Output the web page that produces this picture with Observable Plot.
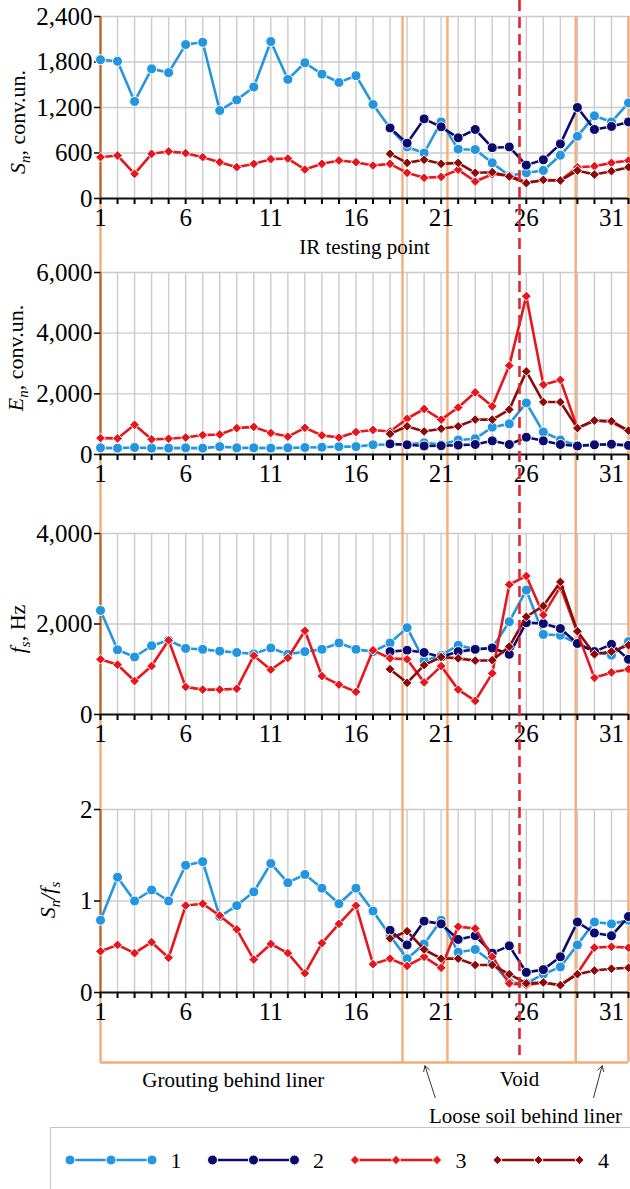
<!DOCTYPE html>
<html>
<head>
<meta charset="utf-8">
<script src="https://cdn.jsdelivr.net/npm/d3@7"></script>
<script src="https://cdn.jsdelivr.net/npm/@observablehq/plot@0.6"></script>
<style>
  body { margin: 0; background: #fff; font-family: "Liberation Serif", serif; }
  #fig { position: relative; width: 630px; height: 1189px; overflow: hidden; background: #fff; }
  #fig svg { overflow: visible; }
  #fig svg g[aria-label$="tick label"] text { font-size: 25px !important; }
  .legend { position: absolute; left: 50px; top: 1127px; width: 582px; height: 90px;
            border: 1.5px solid #c4c4c4; box-sizing: border-box; background: #fff; }
  .legend svg { position: absolute; left: 0; top: 0; }
</style>
</head>
<body>
<div id="fig"></div>
<script>
// IR testing points along the tunnel lining
const pointNo = d3.range(1, 33);        // series 1 and 3: points 1..32
const pointNoLate = d3.range(18, 33);   // series 2 and 4: points 18..32
const seriesNames = ["1", "2", "3", "4"];

// S_n, conv.un.
const sn1 = [1830, 1810, 1280, 1710, 1660, 2030, 2060, 1160, 1300, 1470, 2070, 1570, 1790, 1640, 1530, 1620,
             1240, 930, 680, 600, 1010, 650, 645, 470, 300, 340, 370, 570, 820, 1090, 1010, 1260];
const sn2 = [930, 730, 1050, 945, 800, 910, 670, 680, 440, 510, 720, 1200, 910, 950, 1010];
const sn3 = [545, 567, 325, 589, 620, 598, 545, 479, 413, 457, 519, 527, 382, 457, 501, 479,
             435, 457, 339, 273, 285, 380, 224, 320, 303, 215, 237, 237, 413, 426, 470, 500];
const sn4 = [589, 470, 510, 457, 470, 339, 347, 290, 202, 246, 237, 369, 316, 360, 413];

// E_n, conv.un.
const en1 = [220, 210, 230, 210, 210, 220, 210, 260, 220, 220, 210, 220, 230, 240, 260, 260,
             320, 330, 340, 385, 330, 480, 520, 900, 1010, 1700, 740, 480, 300, 320, 320, 300];
const en2 = [350, 320, 280, 290, 310, 330, 450, 330, 570, 450, 330, 280, 320, 340, 300];
const en3 = [540, 530, 980, 500, 520, 560, 640, 660, 870, 910, 710, 590, 880, 630, 560, 740,
             810, 760, 1180, 1500, 1150, 1550, 2050, 1590, 2930, 5220, 2300, 2460, 870, 1120, 1070, 770];
const en4 = [680, 930, 760, 850, 930, 1150, 1150, 1480, 2740, 1730, 1730, 870, 1120, 1100, 790];

// f_s, Hz
const fs1 = [2300, 1430, 1270, 1520, 1640, 1460, 1440, 1400, 1370, 1340, 1470, 1330, 1390, 1440, 1580, 1440,
             1390, 1580, 1920, 1190, 1310, 1530, 1440, 1470, 2050, 2750, 1770, 1750, 1570, 1390, 1310, 1610];
const fs2 = [1390, 1420, 1370, 1270, 1390, 1440, 1470, 1330, 2030, 2010, 1900, 1570, 1390, 1550, 1220];
const fs3 = [1220, 1100, 740, 1070, 1640, 610, 550, 550, 570, 1300, 990, 1250, 1850, 850, 660, 500,
             1420, 1240, 1220, 710, 1070, 550, 300, 910, 2870, 3060, 2200, 2820, 1810, 810, 930, 1000];
const fs4 = [1000, 700, 1090, 1270, 1240, 1190, 1200, 1500, 2160, 2400, 2930, 1840, 1330, 1390, 1530];

// S_n / f_s
const ratio1 = [0.79, 1.26, 1.0, 1.12, 1.0, 1.39, 1.43, 0.83, 0.95, 1.10, 1.41, 1.20, 1.29, 1.14, 0.97, 1.14,
                0.89, 0.62, 0.37, 0.53, 0.79, 0.44, 0.47, 0.33, 0.11, 0.10, 0.20, 0.28, 0.52, 0.77, 0.75, 0.79];
const ratio2 = [0.68, 0.52, 0.78, 0.75, 0.58, 0.62, 0.43, 0.51, 0.22, 0.25, 0.39, 0.77, 0.65, 0.62, 0.83];
const ratio3 = [0.45, 0.52, 0.43, 0.55, 0.38, 0.95, 0.97, 0.84, 0.69, 0.36, 0.53, 0.43, 0.21, 0.54, 0.75, 0.95,
                0.31, 0.37, 0.29, 0.39, 0.27, 0.72, 0.70, 0.39, 0.10, 0.08, 0.11, 0.08, 0.21, 0.49, 0.50, 0.49];
const ratio4 = [0.59, 0.67, 0.47, 0.37, 0.37, 0.30, 0.30, 0.20, 0.10, 0.11, 0.08, 0.20, 0.24, 0.26, 0.27];

// y-axis ticks of the four panels
const snTicks = [0, 600, 1200, 1800, 2400];
const enTicks = [0, 2000, 4000, 6000];
const fsTicks = [0, 2000, 4000];
const ratioTicks = [0, 1, 2];

// zones behind the liner (boundaries in point units) and the void axis
const zoneEdges = [1, 18.73, 21.37, 28.9, 32];
const voidAxis = 25.6;
const zoneLabels = ["Grouting behind liner", "Void", "Loose soil behind liner"];

// styling
const GRID = "#cbcbcb";
const ORANGE = "#f3ad78";
const DASH = "#e2252b";
const FONT = "'Liberation Serif', 'DejaVu Serif', serif";
const thousands = d3.format(",");
const seriesStyle = [
  {color: "#2496de", symbol: "circle", r: 5},
  {color: "#0b0b6e", symbol: "circle", r: 5},
  {color: "#e8161c", symbol: "diamond2", r: 4.4},
  {color: "#8b0a0a", symbol: "diamond2", r: 4.4}
];

const fig = document.getElementById("fig");
const xScale = {domain: [1, 32]};

function seriesRows(values, k) {
  const xs = k % 2 === 0 ? pointNo : pointNoLate;
  return values.map((v, i) => ({point: xs[i], value: v}));
}

// serif type on every text node of a chart
function serifText(svg) {
  const s = d3.select(svg);
  s.style("font-family", FONT);
  s.selectAll("text").style("font-family", FONT);
}

function addTitle(svg, parts, tx, ty) {
  const t = d3.select(svg).append("text")
    .attr("transform", `translate(${tx},${ty}) rotate(-90)`)
    .attr("text-anchor", "middle")
    .attr("font-size", 22)
    .attr("fill", "#000");
  let shifted = 0;
  for (const p of parts) {
    const ts = t.append("tspan").text(p.text);
    if (p.italic) ts.attr("font-style", "italic");
    const want = p.sub ? 5 : 0;
    if (want !== shifted) { ts.attr("dy", want - shifted); shifted = want; }
    if (p.sub) ts.attr("font-size", 15);
  }
}

function buildPanel(cfg) {
  const marks = [
    Plot.gridX(pointNo.slice(1), {stroke: GRID, strokeOpacity: 1, strokeWidth: 1.4}),
    Plot.gridY(cfg.ticks, {stroke: GRID, strokeOpacity: 1, strokeWidth: 1.4}),
    Plot.ruleX(zoneEdges, {stroke: ORANGE, strokeWidth: 2.4, insetTop: -cfg.orangeTop, insetBottom: -cfg.orangeBottom}),
    Plot.ruleX([1], {stroke: "#b3622c", strokeWidth: 2}),
    Plot.axisY({ticks: cfg.ticks, tickFormat: thousands, tickSize: 6, tickPadding: 2, label: null,
                strokeWidth: 1.5, fontSize: 25}),
    Plot.axisX({ticks: pointNo, tickFormat: d => (d - 1) % 5 ? "" : String(d), tickSize: 6, tickPadding: 4,
                label: null, strokeWidth: 2, fontSize: 25}),
    Plot.ruleY([0], {stroke: "#111", strokeWidth: 2})
  ];
  cfg.values.forEach((vals, k) => {
    const rows = seriesRows(vals, k);
    const st = seriesStyle[k];
    marks.push(Plot.line(rows, {x: "point", y: "value", stroke: st.color, strokeWidth: 2.6}));
    marks.push(Plot.dot(rows, {x: "point", y: "value", fill: st.color, stroke: "#fff", strokeWidth: 1,
                               r: st.r, symbol: st.symbol}));
  });
  marks.push(Plot.ruleX([voidAxis], {stroke: DASH, strokeWidth: 2.6, strokeDasharray: "11,6",
                                     insetTop: -cfg.dashTop, insetBottom: -cfg.dashBottom}));
  if (cfg.extra) marks.push(...cfg.extra);

  const svg = Plot.plot({
    width: 630,
    height: cfg.height,
    marginLeft: 100,
    marginRight: 2,
    marginTop: cfg.marginTop,
    marginBottom: cfg.marginBottom,
    x: xScale,
    y: {domain: [cfg.ticks[0], cfg.ticks[cfg.ticks.length - 1]]},
    style: {background: "transparent", overflow: "visible",
            fontSize: "21px", color: "#000", position: "absolute", left: "0px", top: cfg.top + "px"},
    marks
  });
  addTitle(svg, cfg.title, cfg.titleX, cfg.titleY);
  serifText(svg);
  fig.appendChild(svg);
}

buildPanel({
  top: 0, height: 264, marginTop: 16, marginBottom: 66,
  ticks: snTicks, values: [sn1, sn2, sn3, sn4],
  orangeTop: 0, orangeBottom: 66, dashTop: 16, dashBottom: 66,
  title: [{text: "S", italic: true}, {text: "n", italic: true, sub: true}, {text: ", conv.un."}],
  titleX: 25, titleY: 122,
  extra: [Plot.text(["IR testing point"], {text: d => d, frameAnchor: "bottom", dy: 55, fontSize: 21})]
});

buildPanel({
  top: 264, height: 254, marginTop: 8, marginBottom: 64,
  ticks: enTicks, values: [en1, en2, en3, en4],
  orangeTop: 8, orangeBottom: 64, dashTop: 8, dashBottom: 64,
  title: [{text: "E", italic: true}, {text: "n", italic: true, sub: true}, {text: ", conv.un."}],
  titleX: 23, titleY: 94
});

buildPanel({
  top: 518, height: 272, marginTop: 15, marginBottom: 76,
  ticks: fsTicks, values: [fs1, fs2, fs3, fs4],
  orangeTop: 15, orangeBottom: 76, dashTop: 15, dashBottom: 76,
  title: [{text: "f", italic: true}, {text: "s", italic: true, sub: true}, {text: ", Hz"}],
  titleX: 25, titleY: 111
});

buildPanel({
  top: 790, height: 272, marginTop: 19, marginBottom: 70,
  ticks: ratioTicks, values: [ratio1, ratio2, ratio3, ratio4],
  orangeTop: 19, orangeBottom: 70, dashTop: 19, dashBottom: 63,
  title: [{text: "S", italic: true}, {text: "n", italic: true, sub: true}, {text: "/", italic: true},
          {text: "f", italic: true}, {text: "s", italic: true, sub: true}],
  titleX: 55, titleY: 110
});

// zone annotation strip under the last panel
const looseCenters = [(zoneEdges[1] + zoneEdges[2]) / 2, (zoneEdges[3] + zoneEdges[4]) / 2];
const zoneText = [
  {label: zoneLabels[0], point: 8.8, row: 0.28},
  {label: zoneLabels[1], point: voidAxis, row: 0.26},
  {label: zoneLabels[2], point: 25.95, row: 0.82}
];
const zoneArrows = [
  {from: looseCenters[0] + 0.6, to: looseCenters[0]},
  {from: looseCenters[1] - 0.5, to: looseCenters[1]}
];
const strip = Plot.plot({
  width: 630, height: 65, marginLeft: 100, marginRight: 2, marginTop: 0, marginBottom: 0,
  x: {...xScale, axis: null},
  y: {domain: [0, 1], reverse: true, axis: null},
  style: {background: "transparent", overflow: "visible",
          fontSize: "21px", color: "#000", position: "absolute", left: "0px", top: "1062px"},
  marks: [
    Plot.ruleY([0], {x1: zoneEdges[0], x2: zoneEdges[zoneEdges.length - 1], stroke: ORANGE, strokeWidth: 2.4}),
    Plot.text(zoneText, {x: "point", y: "row", text: "label", fontSize: 21, fill: "#000"}),
    Plot.arrow(zoneArrows, {x1: "from", x2: "to", y1: () => 0.54, y2: () => 0.05, stroke: "#333",
                            strokeWidth: 1, headLength: 9, bend: false})
  ]
});
serifText(strip);
fig.appendChild(strip);

// legend
const legendBox = d3.select(fig).append("div").attr("class", "legend");
const lsvg = legendBox.append("svg").attr("width", 582).attr("height", 80);
seriesStyle.forEach((st, k) => {
  const x0 = 19 + k * 142.5, cy = 32;
  const g = lsvg.append("g");
  g.append("line").attr("x1", x0).attr("x2", x0 + 82).attr("y1", cy).attr("y2", cy)
    .attr("stroke", st.color).attr("stroke-width", 2.6);
  [0, 41, 82].forEach(dx => {
    if (st.symbol === "circle") {
      g.append("circle").attr("cx", x0 + dx).attr("cy", cy).attr("r", 5)
        .attr("fill", st.color).attr("stroke", "#fff").attr("stroke-width", 1);
    } else {
      g.append("path").attr("d", d3.symbol(d3.symbolDiamond2, 55)())
        .attr("transform", `translate(${x0 + dx},${cy})`)
        .attr("fill", st.color).attr("stroke", "#fff").attr("stroke-width", 1);
    }
  });
  g.append("text").attr("x", x0 + 106).attr("y", cy).attr("dy", "0.35em").attr("text-anchor", "middle")
    .attr("font-size", 22).attr("fill", "#000").text(seriesNames[k]);
});
serifText(lsvg.node());
</script>
</body>
</html>
